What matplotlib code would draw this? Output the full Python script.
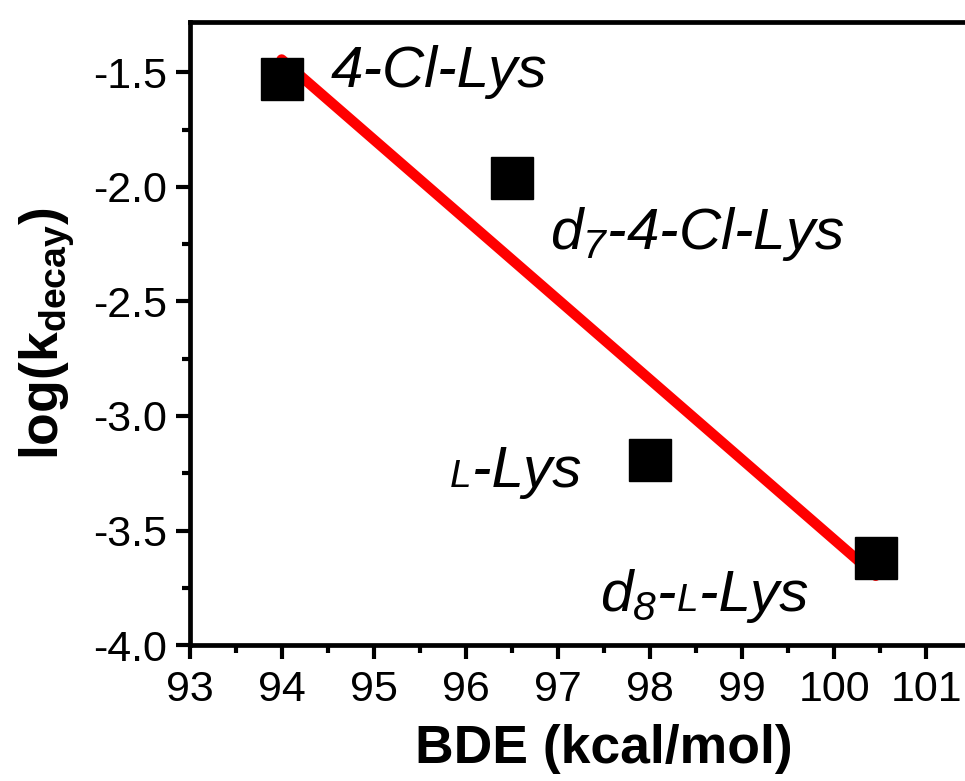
import numpy as np
import matplotlib
matplotlib.use('Agg')
import matplotlib.pyplot as plt
from matplotlib.ticker import MultipleLocator

plt.rcParams['font.family'] = ['Liberation Sans', 'DejaVu Sans']
plt.rcParams['mathtext.fontset'] = 'custom'
plt.rcParams['mathtext.rm'] = 'Liberation Sans:italic'
plt.rcParams['mathtext.it'] = 'Liberation Sans:italic'
plt.rcParams['mathtext.bf'] = 'Liberation Sans:bold'

# 数据
bde = [94.0, 96.5, 98.0, 100.45]
logk = [-1.53, -1.96, -3.19, -3.62]
# 标签（每段: 文本, 字号）
labels = [
    [("4-Cl-Lys", 42)],
    [(r"$d_7$-4-Cl-Lys", 42)],
    [("L", 28), ("-Lys", 42)],
    [(r"$d_8$-", 42), ("L", 28), ("-Lys", 42)],
]
label_pos = [(94.53, -1.565), (96.91, -2.27), (95.83, -3.31), (97.46, -3.85)]

fig = plt.figure(figsize=(9.65, 7.81), dpi=100)
ax = fig.add_axes([0.1964, 0.1741, 0.859, 0.7977])

# 线性拟合
k, b = np.polyfit(bde, logk, 1)
xf = np.array([bde[0], bde[-1]])
ax.plot(xf, k * xf + b, color='red', lw=7.5, solid_capstyle='round', zorder=2)
ax.plot(bde, logk, 's', color='black', ms=30, zorder=3)

ax.set_xlim(93, 102)
ax.set_ylim(-4.0, -1.28)
ax.xaxis.set_major_locator(MultipleLocator(1))
ax.xaxis.set_minor_locator(MultipleLocator(0.5))
ax.yaxis.set_major_locator(MultipleLocator(0.5))
ax.yaxis.set_minor_locator(MultipleLocator(0.25))
ax.yaxis.set_major_formatter(matplotlib.ticker.FormatStrFormatter('%.1f'))

for s in ax.spines.values():
    s.set_linewidth(3.4)
ax.tick_params(which='major', direction='out', length=10, width=3, labelsize=31)
ax.tick_params(axis='x', which='major', pad=8)
ax.tick_params(axis='y', which='major', pad=6)
ax.tick_params(which='minor', direction='out', length=6, width=3)

ax.set_xlabel("BDE (kcal/mol)", fontsize=38.5, fontweight='bold', labelpad=10)
ax.set_ylabel(r"log(k$_\mathbf{decay}$)", fontsize=38.5, fontweight='bold', labelpad=12)

# 标签：逐段拼接（小型大写 L）
fig.canvas.draw()
r = fig.canvas.get_renderer()
for parts, (lx, ly) in zip(labels, label_pos):
    px, py = ax.transData.transform((lx, ly))
    for txt, size in parts:
        x0, y0 = ax.transData.inverted().transform((px, py))
        t = ax.text(x0, y0, txt, fontsize=size, fontstyle='italic',
                    ha='left', va='baseline', zorder=4)
        px = t.get_window_extent(renderer=r).x1

fig.savefig('out.png', dpi=100)
